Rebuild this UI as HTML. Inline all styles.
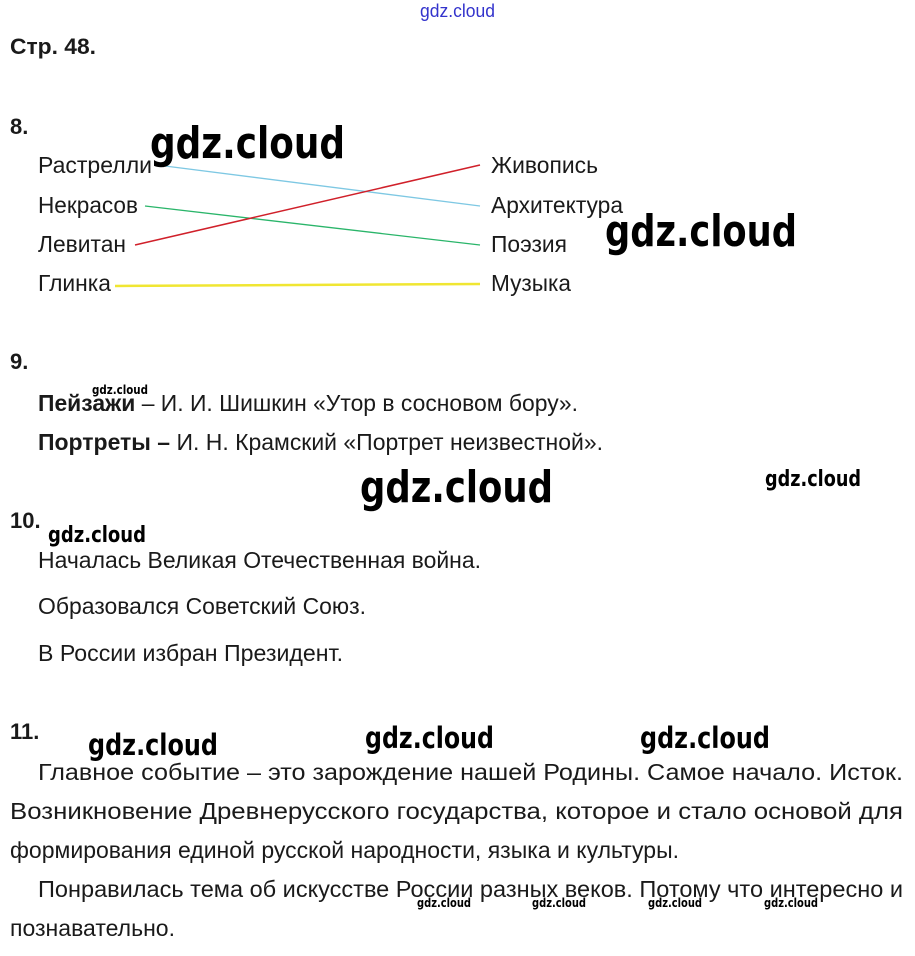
<!DOCTYPE html>
<html><head><meta charset="utf-8"><style>
html,body{margin:0;padding:0;background:#fff;}
svg{display:block;}
text{font-family:"Liberation Sans",Arial,sans-serif;fill:#1a1a1a;}
.w{font-family:"DejaVu Sans","Liberation Sans",sans-serif;font-weight:bold;fill:#000;}
</style></head><body>
<svg width="915" height="956" viewBox="0 0 915 956" xmlns="http://www.w3.org/2000/svg">
<text x="420" y="17" font-size="18" style="fill:#3333cc" textLength="75" lengthAdjust="spacingAndGlyphs">gdz.cloud</text>
<text x="10" y="54" font-size="22" font-weight="bold" textLength="86" lengthAdjust="spacingAndGlyphs">Стр. 48.</text>
<text x="10" y="134" font-size="22" font-weight="bold">8.</text>

<line x1="165" y1="166" x2="480" y2="206" stroke="#7ec8e3" stroke-width="1.3"/>
<line x1="145" y1="206" x2="480" y2="245" stroke="#2ab56a" stroke-width="1.3"/>
<line x1="135" y1="245" x2="480" y2="165" stroke="#d0202a" stroke-width="1.5"/>
<line x1="115" y1="286" x2="480" y2="284" stroke="#f0e632" stroke-width="2.5"/>

<g font-size="23">
<text x="38" y="173" textLength="114" lengthAdjust="spacingAndGlyphs">Растрелли</text>
<text x="38" y="213" textLength="100" lengthAdjust="spacingAndGlyphs">Некрасов</text>
<text x="38" y="252" textLength="88" lengthAdjust="spacingAndGlyphs">Левитан</text>
<text x="38" y="291" textLength="73" lengthAdjust="spacingAndGlyphs">Глинка</text>
<text x="491" y="173" textLength="107" lengthAdjust="spacingAndGlyphs">Живопись</text>
<text x="491" y="213" textLength="132" lengthAdjust="spacingAndGlyphs">Архитектура</text>
<text x="491" y="252" textLength="76" lengthAdjust="spacingAndGlyphs">Поэзия</text>
<text x="491" y="291" textLength="80" lengthAdjust="spacingAndGlyphs">Музыка</text>
</g>
<text class="w" x="150" y="158" font-size="44" textLength="195" lengthAdjust="spacingAndGlyphs">gdz.cloud</text>
<text class="w" x="605" y="246" font-size="44" textLength="192" lengthAdjust="spacingAndGlyphs">gdz.cloud</text>

<text x="10" y="369" font-size="22" font-weight="bold">9.</text>
<text class="w" x="92" y="394" font-size="12" textLength="56" lengthAdjust="spacingAndGlyphs">gdz.cloud</text>
<text x="38" y="411" font-size="23" textLength="540" lengthAdjust="spacingAndGlyphs"><tspan font-weight="bold">Пейзажи</tspan> – И. И. Шишкин «Утор в сосновом бору».</text>
<text x="38" y="450" font-size="23" textLength="565" lengthAdjust="spacingAndGlyphs"><tspan font-weight="bold">Портреты –</tspan> И. Н. Крамский «Портрет неизвестной».</text>
<text class="w" x="360" y="502" font-size="44" textLength="193" lengthAdjust="spacingAndGlyphs">gdz.cloud</text>
<text class="w" x="765" y="486" font-size="22" textLength="96" lengthAdjust="spacingAndGlyphs">gdz.cloud</text>

<text x="10" y="528" font-size="22" font-weight="bold">10.</text>
<text class="w" x="48" y="542" font-size="22" textLength="98" lengthAdjust="spacingAndGlyphs">gdz.cloud</text>
<g font-size="23">
<text x="38" y="568" textLength="443" lengthAdjust="spacingAndGlyphs">Началась Великая Отечественная война.</text>
<text x="38" y="614" textLength="328" lengthAdjust="spacingAndGlyphs">Образовался Советский Союз.</text>
<text x="38" y="661" textLength="305" lengthAdjust="spacingAndGlyphs">В России избран Президент.</text>
</g>

<text x="10" y="739" font-size="22" font-weight="bold">11.</text>
<text class="w" x="88" y="755" font-size="29" textLength="130" lengthAdjust="spacingAndGlyphs">gdz.cloud</text>
<text class="w" x="365" y="748" font-size="29" textLength="129" lengthAdjust="spacingAndGlyphs">gdz.cloud</text>
<text class="w" x="640" y="748" font-size="29" textLength="130" lengthAdjust="spacingAndGlyphs">gdz.cloud</text>
<g font-size="23">
<text x="38" y="780" textLength="865" lengthAdjust="spacingAndGlyphs">Главное событие – это зарождение нашей Родины. Самое начало. Исток.</text>
<text x="10" y="819" textLength="893" lengthAdjust="spacingAndGlyphs">Возникновение Древнерусского государства, которое и стало основой для</text>
<text x="10" y="858" textLength="669" lengthAdjust="spacingAndGlyphs">формирования единой русской народности, языка и культуры.</text>
<text x="38" y="897" textLength="865" lengthAdjust="spacingAndGlyphs">Понравилась тема об искусстве России разных веков. Потому что интересно и</text>
<text x="10" y="936" textLength="165" lengthAdjust="spacingAndGlyphs">познавательно.</text>
</g>
<g>
<text class="w" x="417" y="907" font-size="12" textLength="54" lengthAdjust="spacingAndGlyphs">gdz.cloud</text>
<text class="w" x="532" y="907" font-size="12" textLength="54" lengthAdjust="spacingAndGlyphs">gdz.cloud</text>
<text class="w" x="648" y="907" font-size="12" textLength="54" lengthAdjust="spacingAndGlyphs">gdz.cloud</text>
<text class="w" x="764" y="907" font-size="12" textLength="54" lengthAdjust="spacingAndGlyphs">gdz.cloud</text>
</g>
</svg>
</body></html>
